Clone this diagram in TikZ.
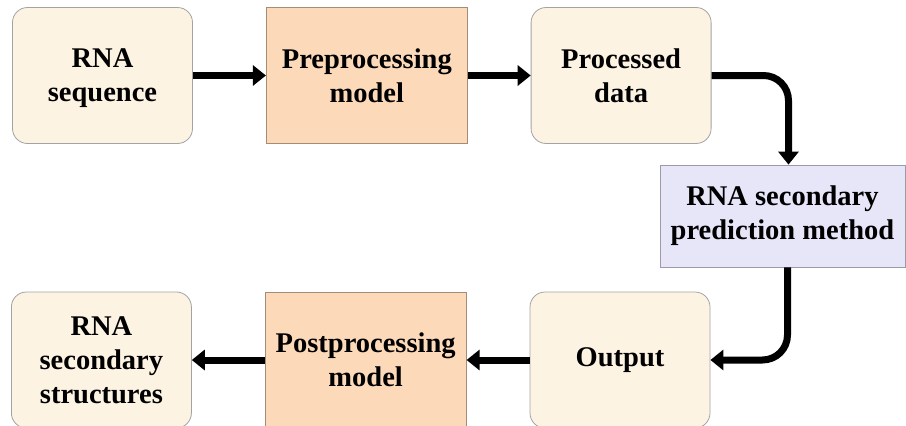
\documentclass[tikz,border=0pt]{standalone}
\usepackage{fontspec}
\setmainfont{Liberation Serif}
\usetikzlibrary{arrows.meta,positioning,calc}

\definecolor{datafill}{HTML}{FDF3E3}
\definecolor{dataline}{HTML}{A3A3A3}
\definecolor{modelfill}{HTML}{FCDAB9}
\definecolor{modelline}{HTML}{A38C78}
\definecolor{methodfill}{HTML}{E6E6F8}
\definecolor{methodline}{HTML}{9A9AAA}

\begin{document}
\begin{tikzpicture}[x=1pt,y=1pt,>={Triangle[length=13pt,width=20pt]},
                    node distance=73pt,
                    every node/.style={align=center,inner sep=0pt,
                      font=\bfseries\fontsize{28.5}{34}\selectfont},
                    databox/.style={draw=dataline,fill=datafill,line width=0.8pt,
                      rounded corners=15pt,minimum width=180pt,minimum height=136pt},
                    modelbox/.style={draw=modelline,fill=modelfill,line width=0.8pt,
                      minimum width=201pt,minimum height=136pt},
                    methodbox/.style={draw=methodline,fill=methodfill,line width=0.8pt,
                      minimum width=245pt,minimum height=102pt},
                    flow/.style={->,line width=7pt,rounded corners=25pt}]

 \useasboundingbox (0,0) rectangle (906,-426);

 \node[databox,text depth=0pt] (seq) at (102.5,-75.5) {RNA\\sequence};
 \node[modelbox] (pre) [right=73pt of seq] {Preprocessing\\model};
 \node[databox]  (proc) [right=63pt of pre] {Processed\\data};
 \node[methodbox] (pred) at (782.5,-216)   {RNA secondary\\prediction method};

 \node[databox]  (out) at (620,-360)       {Output};
 \node[modelbox] (post) [left=63pt of out] {Postprocessing\\model};
 \node[databox]  (struct) [left=73pt of post] {RNA\\secondary\\structures};

 \draw[flow] (seq) -- (pre);
 \draw[flow] (pre) -- (proc);
 \draw[flow] (proc.east) -| ($(pred.north)+(6,0)$);
 \draw[flow] ($(pred.south)+(5,0)$) |- (out.east);
 \draw[flow] (out) -- (post);
 \draw[flow] (post) -- (struct);
\end{tikzpicture}
\end{document}
